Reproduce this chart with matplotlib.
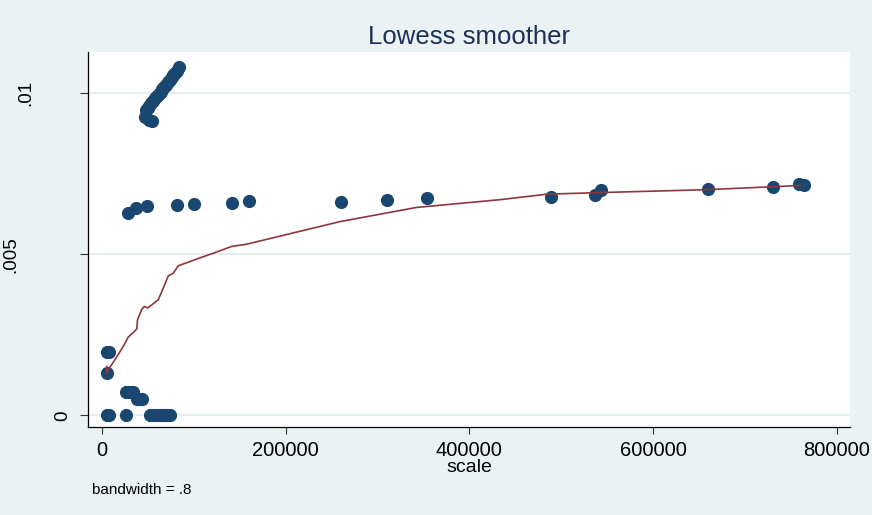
import matplotlib
matplotlib.use('Agg')
from matplotlib import pyplot as plt
from matplotlib import transforms

plt.rcParams['font.family'] = ['Liberation Sans', 'DejaVu Sans']

BG = '#eaf2f3'
NAVY = '#1a476f'
MAROON = '#90353b'
TITLE_COLOR = '#1e2f58'

# observed points (scale, y)
scale_obs = [6000, 8000, 5400,
             26000, 29000, 32000, 34500,
             38000, 41000, 44000,
             5500, 8000, 26200, 52500, 56000, 59500, 63000, 66500, 70000, 74300,
             48000, 50000, 52000, 54000, 56000, 58000, 60000, 62000, 64000,
             66000, 68000, 70000, 72000, 74000, 76000, 78000, 80000, 82000, 84400,
             47100, 51500, 54200,
             28200, 37300, 48960, 82250, 100400, 142100, 159900, 260400,
             310700, 354300, 488500, 536700, 543200, 659300, 730000, 759000, 764100]
y_obs = [0.00198, 0.00198, 0.00131,
         0.00074, 0.00074, 0.00074, 0.00074,
         0.00052, 0.00052, 0.00052,
         0, 0, 0, 0, 0, 0, 0, 0, 0, 0,
         0.00947, 0.00954, 0.00961, 0.00968, 0.00975, 0.00983, 0.00990, 0.00997, 0.01004,
         0.01012, 0.01019, 0.01026, 0.01033, 0.01041, 0.01048, 0.01055, 0.01062, 0.01069, 0.01079,
         0.00925, 0.00917, 0.00914,
         0.00629, 0.00643, 0.00648, 0.00651, 0.00655, 0.00660, 0.00666, 0.00663,
         0.00668, 0.00673, 0.00677, 0.00682, 0.00698, 0.00703, 0.00709, 0.00718, 0.00713]

# lowess fit
scale_fit = [5400, 5400, 7200, 14500, 23500, 28900, 34400, 38100, 39000, 43500,
             46400, 50100, 61600, 67000, 72500, 77900, 83300, 101500, 121400,
             141400, 157800, 259300, 342700, 433400, 484200, 541900, 658200, 759900]
y_fit = [0.00152, 0.00129, 0.00142, 0.00173, 0.00214, 0.00243, 0.00257, 0.00268,
         0.00297, 0.00328, 0.00338, 0.00333, 0.00359, 0.00395, 0.00433, 0.00441,
         0.00464, 0.00483, 0.00503, 0.00524, 0.00531, 0.00601, 0.00645, 0.00669,
         0.00686, 0.00691, 0.00700, 0.00713]

X_TICKS = [0, 200000, 400000, 600000, 800000]
X_TICK_LABELS = ['0', '200000', '400000', '600000', '800000']
Y_TICKS = [0, 0.005, 0.01]
Y_TICK_LABELS = ['0', '.005', '.01']

# horizontal spot of each rotated y label (axes fraction)
ylab_x = [-0.0335, -0.101, -0.082]

fig = plt.figure(figsize=(8.72, 5.15), dpi=100)
fig.patch.set_facecolor(BG)
ax = fig.add_axes([88 / 872, 1 - 427 / 515, 762 / 872, 375 / 515])
ax.set_facecolor('white')

ax.plot(scale_obs, y_obs, 'o', color=NAVY, markersize=9.5, markeredgewidth=0, zorder=3)
ax.plot(scale_fit, y_fit, '-', color=MAROON, lw=1.2, zorder=4)

ax.set_xlim(-14900, 814100)
ax.set_ylim(-0.00036, 0.01127)

ax.set_xticks(X_TICKS)
ax.set_xticklabels(X_TICK_LABELS, fontsize=14.5)
ax.set_yticks(Y_TICKS)
ax.set_yticklabels([])
ax.tick_params(axis='x', direction='out', length=5, width=0.8, pad=5, color='#333333')
ax.tick_params(axis='y', direction='out', length=6, width=0.8, color='#333333')

trans = transforms.blended_transform_factory(ax.transAxes, ax.transData)
for xp, v, lab in zip(ylab_x, Y_TICKS, Y_TICK_LABELS):
    ax.text(xp, v, lab, transform=trans, rotation=90, ha='center', va='center',
            fontsize=13.5)

ax.grid(True, axis='y', color='#e3eced', lw=1.3)
ax.set_axisbelow(True)

for side in ['top', 'right']:
    ax.spines[side].set_visible(False)
for side in ['left', 'bottom']:
    ax.spines[side].set_color('black')
    ax.spines[side].set_linewidth(0.9)

ax.set_xlabel('scale', fontsize=14, labelpad=-1)

fig.text(469 / 872, 1 - 37 / 515, 'Lowess smoother', ha='center', va='center',
         fontsize=18.5, color=TITLE_COLOR)
fig.text(92 / 872, 1 - 490 / 515, 'bandwidth = .8', ha='left', va='center',
         fontsize=11)

fig.savefig('out.png', dpi=100, facecolor=BG)
plt.close()
